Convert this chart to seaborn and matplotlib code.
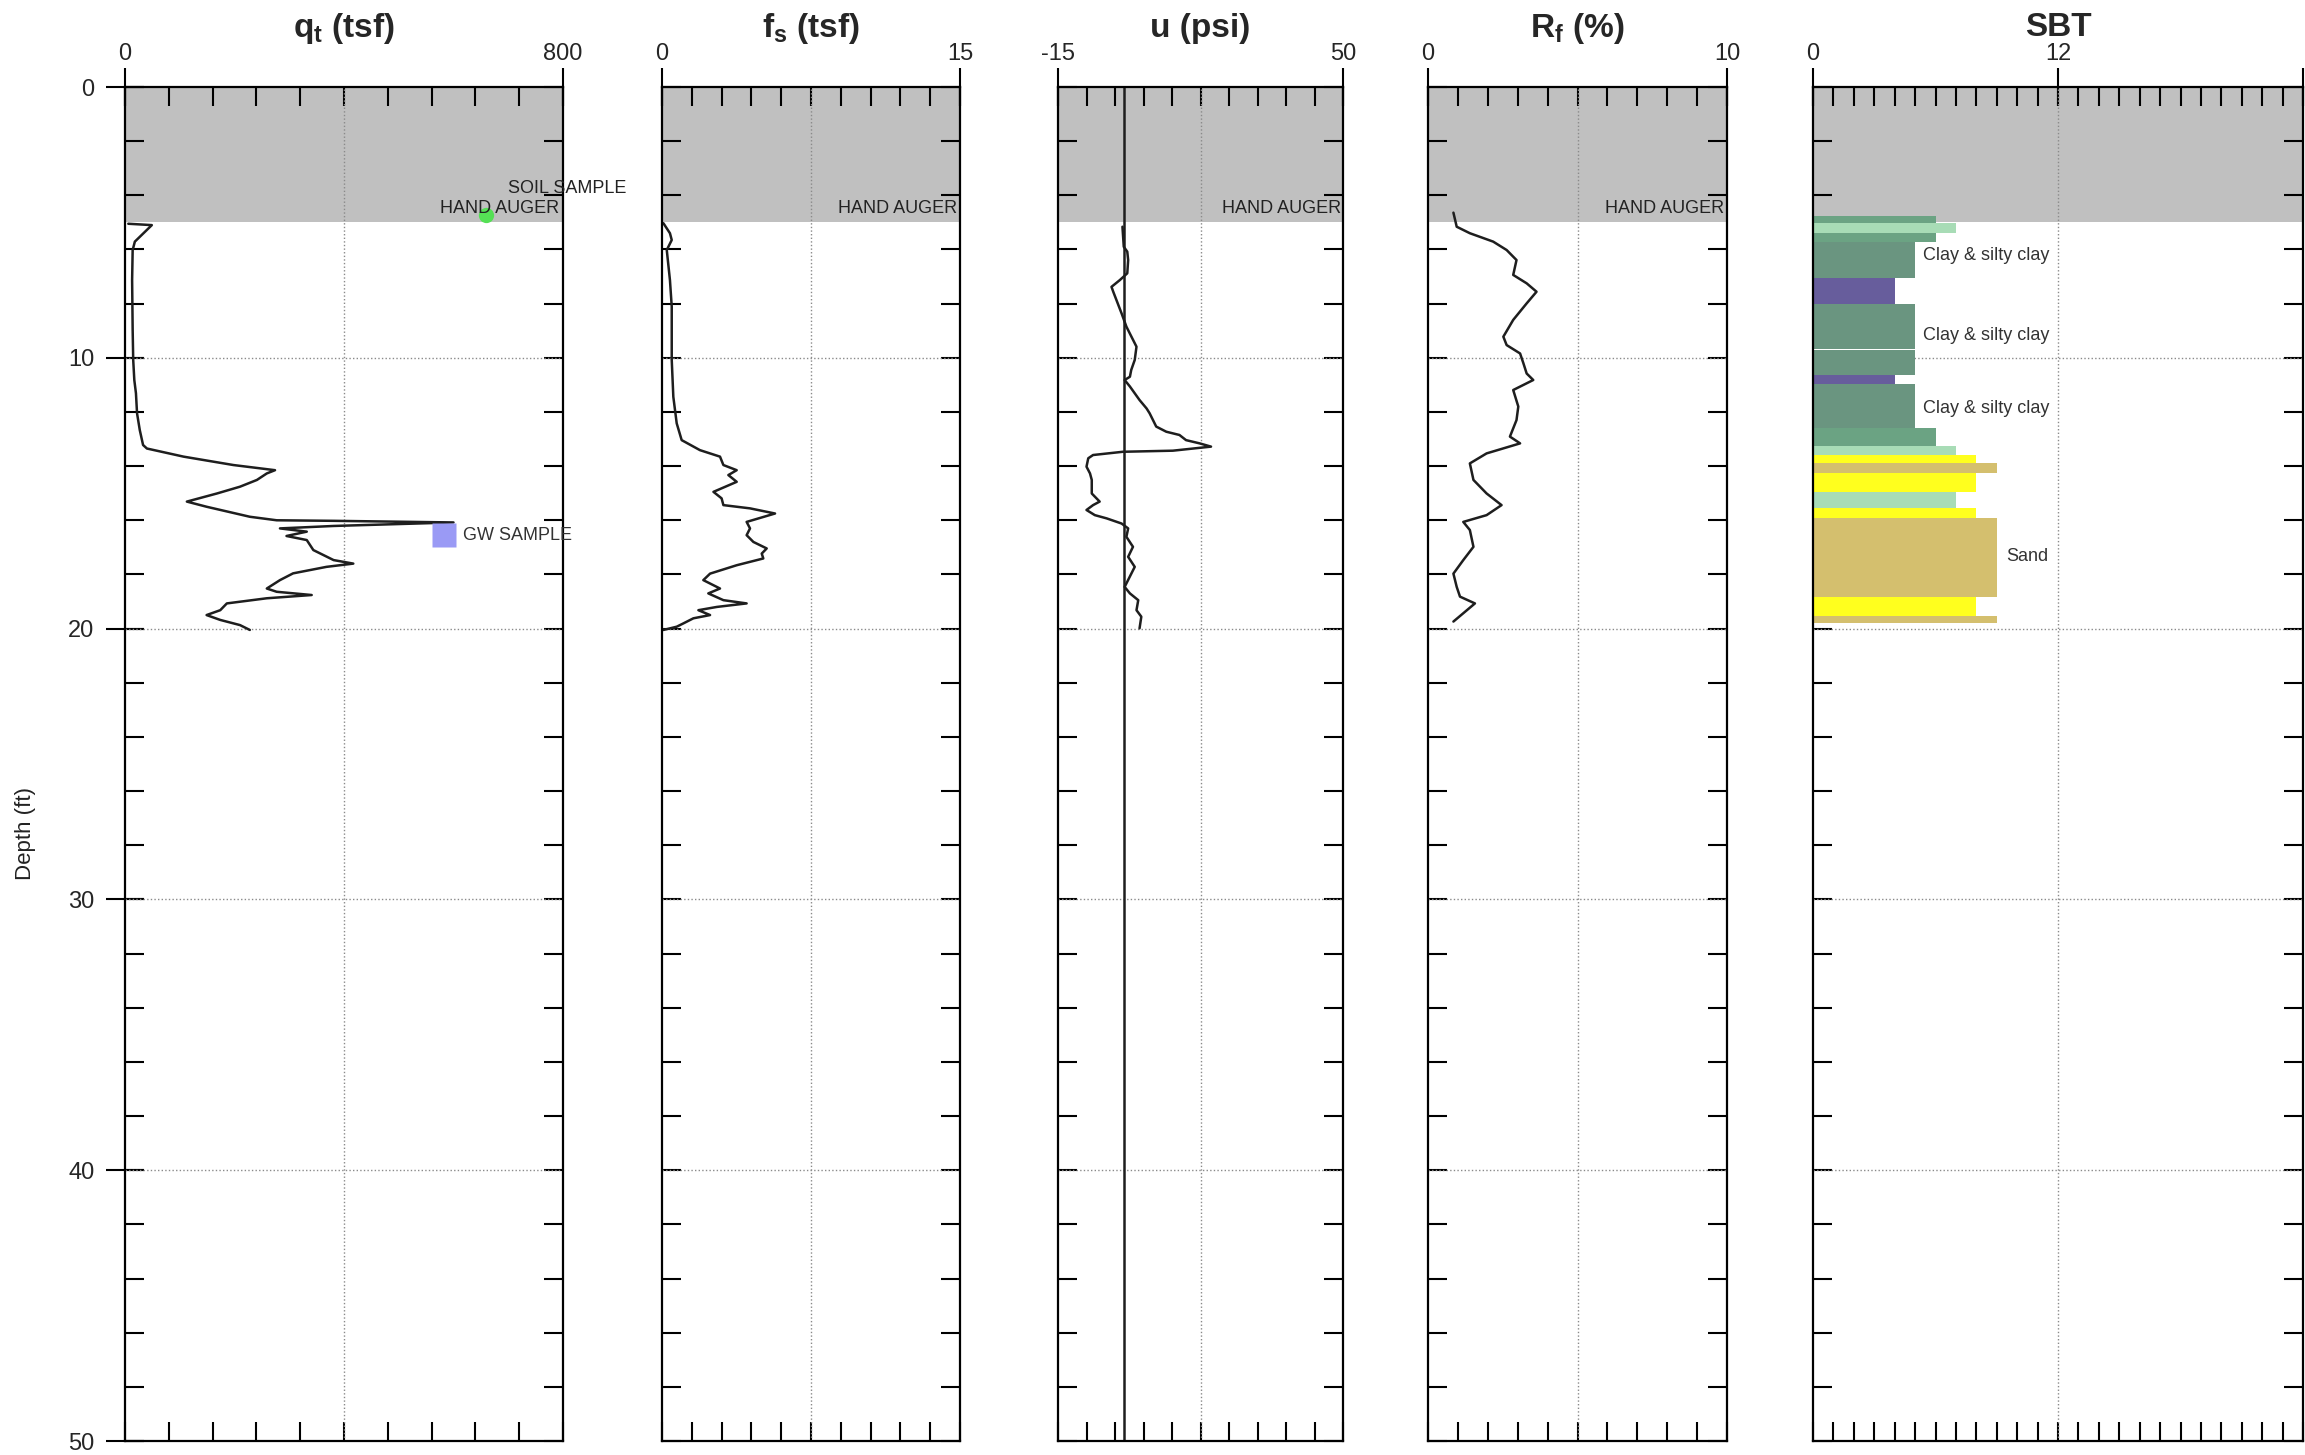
import numpy as np
import pandas as pd
import matplotlib
matplotlib.use("Agg")
import matplotlib.pyplot as plt
import seaborn as sns
from matplotlib.ticker import FixedLocator

# ---------------- data ----------------
qt_depth = [5.05, 5.10, 5.71, 6.02, 7.13, 8.97, 10.08, 10.82, 11.31, 12.05,
            12.67, 13.22, 13.35, 13.65, 13.96, 14.15, 14.27, 14.51, 14.76, 15.01,
            15.31, 15.50, 15.87, 16.00, 16.02, 16.08, 16.21, 16.30, 16.42, 16.58,
            16.73, 17.10, 17.47, 17.60, 17.72, 17.96, 18.21, 18.52, 18.64, 18.76,
            18.88, 19.07, 19.32, 19.50, 19.68, 19.87, 20.05]
qt_val = [6, 49, 18, 14, 13, 14, 15, 17, 20, 22,
          27, 33, 40, 107, 198, 274, 259, 241, 210, 168,
          113, 149, 228, 277, 381, 600, 381, 283, 332, 295,
          332, 344, 381, 417, 368, 307, 283, 259, 277, 341,
          259, 186, 174, 149, 174, 210, 228]

fs_depth = [5.03, 5.40, 5.65, 6.02, 7.13, 8.11, 10.08, 11.44, 12.42, 13.04,
            13.41, 13.65, 13.96, 14.15, 14.33, 14.58, 14.95, 15.19, 15.44, 15.56,
            15.75, 16.06, 16.30, 16.55, 16.80, 17.04, 17.23, 17.41, 17.66, 17.97,
            18.21, 18.52, 18.70, 18.95, 19.07, 19.20, 19.32, 19.50, 19.62, 19.81,
            19.93, 20.05]
fs_val = [0.07, 0.40, 0.49, 0.24, 0.40, 0.49, 0.49, 0.57, 0.74, 0.99,
          1.91, 2.92, 3.09, 3.76, 3.34, 3.76, 2.59, 3.00, 3.09, 4.43,
          5.69, 4.26, 4.43, 4.26, 4.60, 5.27, 5.02, 5.10, 3.76, 2.42,
          2.08, 2.92, 2.33, 3.09, 4.26, 2.76, 1.83, 2.42, 1.58, 1.07,
          0.74, 0.07]

u_depth = [5.16, 5.90, 6.08, 6.39, 6.88, 7.13, 7.38, 7.56, 8.36, 8.85,
           9.59, 10.08, 10.45, 10.70, 10.82, 11.06, 11.56, 11.87, 12.05, 12.54,
           12.73, 12.85, 13.04, 13.16, 13.28, 13.43, 13.47, 13.59, 13.71, 14.02,
           14.27, 14.51, 15.01, 15.31, 15.44, 15.62, 15.81, 15.93, 16.12, 16.30,
           16.61, 16.98, 17.35, 17.72, 18.46, 18.70, 18.95, 19.32, 19.56, 19.99]
u_val = [-0.3, 0.0, 0.8, 1.0, 0.8, -0.9, -2.8, -2.4, -0.5, 0.6,
         2.9, 2.5, 1.7, 1.4, 0.2, 1.4, 3.6, 5.2, 5.9, 7.4,
         9.7, 12.7, 14.2, 17.3, 19.9, 11.2, -0.2, -7.0, -8.1, -8.5,
         -7.7, -7.3, -7.3, -5.5, -7.0, -8.5, -6.6, -3.9, -0.5, 1.0,
         0.6, 2.1, 1.0, 2.5, 0.2, 1.4, 3.3, 2.9, 4.0, 3.6]
u_zero_line = [0.0, 0.0]
u_zero_depth = [0, 50]

rf_depth = [4.64, 5.16, 5.40, 5.71, 6.02, 6.39, 6.94, 7.25, 7.56, 7.99,
            8.60, 9.22, 9.53, 9.84, 10.20, 10.58, 10.82, 11.19, 11.80, 12.30,
            12.91, 13.16, 13.53, 13.90, 14.51, 15.01, 15.44, 15.81, 16.06, 16.36,
            16.98, 17.47, 17.97, 18.46, 18.82, 19.07, 19.74]
rf_val = [0.85, 0.96, 1.40, 2.18, 2.63, 2.96, 2.85, 3.30, 3.63, 3.30,
          2.85, 2.52, 2.63, 3.08, 3.19, 3.30, 3.52, 2.85, 3.02, 2.96,
          2.74, 3.08, 1.96, 1.40, 1.52, 1.96, 2.46, 1.96, 1.18, 1.40,
          1.52, 1.18, 0.85, 0.96, 1.07, 1.57, 0.85]

sbt_top = [4.77, 5.03, 5.40, 5.71, 7.07, 8.01, 9.72, 10.64, 10.97, 12.60,
           13.26, 13.59, 13.90, 14.27, 14.94, 15.56, 15.90, 18.82, 19.52]
sbt_bottom = [5.03, 5.40, 5.71, 7.07, 8.01, 9.67, 10.64, 10.97, 12.60, 13.26,
              13.59, 13.90, 14.27, 14.94, 15.56, 15.90, 18.82, 19.52, 19.81]
sbt_zone = [6, 7, 6, 5, 4, 5, 5, 4, 5, 6, 7, 8, 9, 8, 7, 8, 9, 8, 9]
zone_colors = {4: "#675d9c", 5: "#6a9580", 6: "#6ba383", 7: "#a8dcb6",
               8: "#ffff1e", 9: "#d4bf6e"}
sbt_labels = ["Clay & silty clay", "Clay & silty clay", "Clay & silty clay", "Sand"]
sbt_label_x = [5.4, 5.4, 5.4, 9.45]
sbt_label_depth = [6.24, 9.19, 11.87, 17.35]

hand_auger_depth = 5.0
soil_sample = {"qt": 660, "depth": 4.73}
gw_sample = {"qt": 582, "depth": 16.55}

panels = [
    dict(title=r"q$_\mathbf{t}$ (tsf)", xmin=0, xmax=800, ndiv=10, grid=400,
         ticks=[0, 800], labels=["0", "800"]),
    dict(title=r"f$_\mathbf{s}$ (tsf)", xmin=0, xmax=15, ndiv=10, grid=7.5,
         ticks=[0, 15], labels=["0", "15"]),
    dict(title="u (psi)", xmin=-15, xmax=50, ndiv=10, grid=17.5,
         ticks=[-15, 50], labels=["-15", "50"]),
    dict(title=r"R$_\mathbf{f}$ (%)", xmin=0, xmax=10, ndiv=10, grid=5,
         ticks=[0, 10], labels=["0", "10"]),
    dict(title="SBT", xmin=0, xmax=24, ndiv=24, grid=12,
         ticks=[0, 12, 24], labels=["0", "12", ""]),
]

# ---------------- style ----------------
sns.set_style("white")
plt.rcParams['font.family'] = ['Liberation Sans', 'DejaVu Sans']
plt.rcParams['mathtext.fontset'] = 'custom'
plt.rcParams['mathtext.bf'] = 'Liberation Sans:bold'
plt.rcParams['mathtext.rm'] = 'Liberation Sans'
plt.rcParams['mathtext.it'] = 'Liberation Sans:italic'

W, H = 2305, 1455
fig = plt.figure(figsize=(W / 100, H / 100), dpi=100)
fig.patch.set_facecolor("white")

top_px, bot_px = 87, 1441
lefts = [125, 662, 1058, 1428, 1813]
rights = [563, 960, 1343, 1727, 2303]

axes = []
for i, p in enumerate(panels):
    ax = fig.add_axes([lefts[i] / W, 1 - bot_px / H, (rights[i] - lefts[i]) / W,
                       (bot_px - top_px) / H])
    axes.append(ax)

line_color = "#1e1e1e"
grid_kw = dict(color="#8a8a8a", lw=1.0, ls=(0, (1, 1.6)), zorder=1)

def setup(ax, p, first):
    ax.set_facecolor("white")
    ax.axhspan(0, hand_auger_depth, color="#c0c0c0", zorder=0, lw=0)
    ax.axvline(p["grid"], **grid_kw)
    for d in [10, 20, 30, 40]:
        ax.axhline(d, **grid_kw)
    ax.set_xlim(p["xmin"], p["xmax"])
    ax.set_ylim(50, 0)
    ax.xaxis.set_ticks_position("top")
    ax.set_xticks(p["ticks"])
    ax.set_xticklabels(p["labels"])
    ax.xaxis.set_minor_locator(FixedLocator(np.linspace(p["xmin"], p["xmax"], p["ndiv"] + 1)))
    ax.xaxis.remove_overlapping_locs = False
    ax.yaxis.remove_overlapping_locs = False
    ax.tick_params(axis="x", which="major", direction="inout", length=28, width=1.5,
                   top=True, bottom=False, labeltop=True, labelbottom=False,
                   labelsize=17, pad=2, color="black")
    ax.tick_params(axis="x", which="minor", direction="in", length=14, width=1.5,
                   top=True, bottom=True, color="black")
    ax.set_yticks([0, 10, 20, 30, 40, 50])
    ax.yaxis.set_minor_locator(FixedLocator(np.arange(0, 51, 2)))
    ax.tick_params(axis="y", which="major", direction="inout", length=28, width=1.5,
                   left=first, right=False, labelleft=first, labelright=False,
                   labelsize=17, pad=8, color="black")
    ax.tick_params(axis="y", which="minor", direction="in", length=14, width=1.5,
                   left=True, right=True, color="black")
    for s in ax.spines.values():
        s.set_color("black")
        s.set_linewidth(1.6)
        s.set_zorder(5)
    ax.text(0.5, 1 + (top_px - 28) / (bot_px - top_px), p["title"], transform=ax.transAxes,
            ha="center", va="center", fontsize=24, fontweight="bold")

curves = [(qt_val, qt_depth), (fs_val, fs_depth), (u_val, u_depth), (rf_val, rf_depth)]
for i, ax in enumerate(axes):
    p = panels[i]
    if i < 4:
        xs, ds = curves[i]
        df = pd.DataFrame({"x": xs, "d": ds})
        sns.lineplot(data=df, x="x", y="d", sort=False, estimator=None, orient="y",
                     color=line_color, linewidth=1.8, ax=ax, zorder=3)
        ax.set_xlabel("")
        ax.set_ylabel("")
    setup(ax, p, first=(i == 0))
    if i < 4:
        ax.text(p["xmax"] - (p["xmax"] - p["xmin"]) * 0.008, 4.5, "HAND AUGER",
                ha="right", va="center", fontsize=13, color="#222222", zorder=6)

# u zero line
sns.lineplot(x=u_zero_line, y=u_zero_depth, sort=False, estimator=None, orient="y",
             color=line_color, linewidth=1.8, ax=axes[2], zorder=3)
axes[2].set_xlabel("")
axes[2].set_ylabel("")
axes[2].set_xlim(-15, 50)
axes[2].set_ylim(50, 0)

# samples on qt panel
ax0 = axes[0]
ax0.plot([soil_sample["qt"]], [soil_sample["depth"]], marker="o", ms=11,
         color="#55e055", mec="none", zorder=4, clip_on=False)
ax0.text(700, 3.75, "SOIL SAMPLE", ha="left", va="center", fontsize=13,
         color="#222222", zorder=6, clip_on=False)
ax0.plot([gw_sample["qt"]], [gw_sample["depth"]], marker="s", ms=17,
         color="#9a9af5", mec="none", zorder=4, clip_on=False)
ax0.text(617, gw_sample["depth"], "GW SAMPLE", ha="left", va="center", fontsize=13,
         color="#333333", zorder=6, clip_on=False)

# SBT bars
ax4 = axes[4]
heights = [b - t for t, b in zip(sbt_top, sbt_bottom)]
ax4.barh(y=sbt_top, width=sbt_zone, height=heights, left=0, align="edge",
         color=[zone_colors[z] for z in sbt_zone], linewidth=0, zorder=2)
for lab, x, d in zip(sbt_labels, sbt_label_x, sbt_label_depth):
    ax4.text(x, d, lab, ha="left", va="center", fontsize=13, color="#333333", zorder=6)

fig.text(26 / W, 1 - 834 / H, "Depth (ft)", rotation=90, ha="center", va="center",
         fontsize=16, color="#222222")

fig.savefig("out.png", dpi=100, facecolor="white")
